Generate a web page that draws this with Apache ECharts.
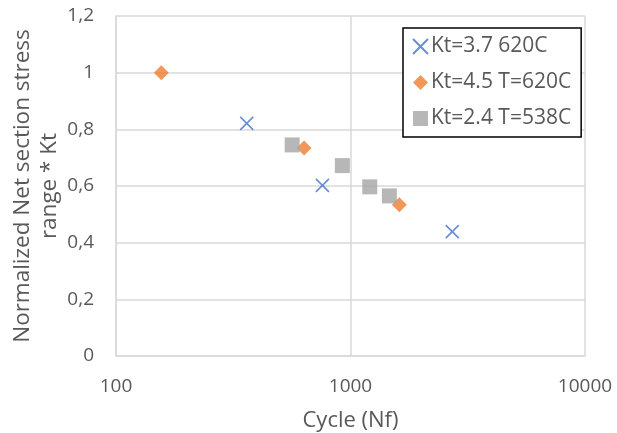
<!DOCTYPE html>
<html>
<head>
<meta charset="utf-8">
<script src="https://cdn.jsdelivr.net/npm/echarts@6/dist/echarts.min.js"></script>
<style>
  html, body { margin: 0; padding: 0; background: #fff; }
  #chart { width: 617px; height: 433px; }
</style>
</head>
<body>
<div id="chart"></div>
<script>
// series data: [cycles Nf, normalized stress range * Kt]
var kt37 = [[361, 0.821], [759, 0.602], [2716, 0.439]];
var kt45 = [[156, 1.0], [634, 0.734], [1615, 0.534]];
var kt24 = [[564, 0.745], [923, 0.672], [1208, 0.597], [1465, 0.565]];
var seriesNames = ['Kt=3.7 620C', 'Kt=4.5 T=620C', 'Kt=2.4 T=538C'];

var textColor = '#595959';
var gridColor = '#d9d9d9';
var font = 'Open Sans';

// comma decimals as in the original
function fmtY(v) {
    return String(Math.round(v * 10) / 10).replace('.', ',');
}
// no thousands separator on the log axis
function fmtX(v) {
    return String(Math.round(v));
}

var chart = echarts.init(document.getElementById('chart'));
chart.setOption({
    animation: false,
    textStyle: { fontFamily: font },
    grid: { left: 116, right: 32, top: 16, bottom: 77, containLabel: false, outerBoundsMode: 'none' },
    legend: {
        orient: 'vertical',
        left: 403,
        top: 28,
        padding: [8, 10, 8, 9],
        itemGap: 15,
        itemWidth: 15,
        itemHeight: 15,
        borderColor: '#000',
        borderWidth: 1.5,
        borderRadius: 0,
        backgroundColor: '#fff',
        textStyle: { color: textColor, fontSize: 21, fontFamily: font, padding: [0, 0, 0, -2] },
        data: seriesNames
    },
    xAxis: {
        type: 'log',
        min: 100,
        max: 10000,
        logBase: 10,
        name: 'Cycle (Nf)',
        nameLocation: 'middle',
        nameGap: 54,
        nameMoveOverlap: false,
        nameTextStyle: { color: textColor, fontSize: 22 },
        axisLine: { lineStyle: { color: gridColor, width: 1.5 } },
        axisTick: { show: false },
        axisLabel: { color: textColor, fontSize: 19, margin: 21, formatter: fmtX },
        splitLine: { show: true, lineStyle: { color: gridColor, width: 1.5 } }
    },
    yAxis: {
        type: 'value',
        min: 0,
        max: 1.2,
        interval: 0.2,
        name: 'Normalized Net section stress\nrange * Kt',
        nameLocation: 'middle',
        nameRotate: 90,
        nameGap: 53,
        nameMoveOverlap: false,
        nameTextStyle: { color: textColor, fontSize: 22.5, lineHeight: 27 },
        axisLine: { show: true, lineStyle: { color: gridColor, width: 1.5 } },
        axisTick: { show: false },
        axisLabel: { color: textColor, fontSize: 19, margin: 22, formatter: fmtY },
        splitLine: { show: true, lineStyle: { color: gridColor, width: 1.5 } }
    },
    series: [{
        name: seriesNames[0],
        type: 'scatter',
        symbol: 'path://M0,0L10,10M10,0L0,10',
        symbolSize: 13,
        itemStyle: { color: 'rgba(0,0,0,0)', borderColor: '#4472C4', borderWidth: 1.6 },
        data: kt37
    }, {
        name: seriesNames[1],
        type: 'scatter',
        symbol: 'diamond',
        symbolSize: [15, 15],
        itemStyle: { color: '#ED7D31' },
        data: kt45
    }, {
        name: seriesNames[2],
        type: 'scatter',
        symbol: 'rect',
        symbolSize: 15,
        itemStyle: { color: '#A5A5A5' },
        data: kt24
    }]
});
</script>
</body>
</html>
